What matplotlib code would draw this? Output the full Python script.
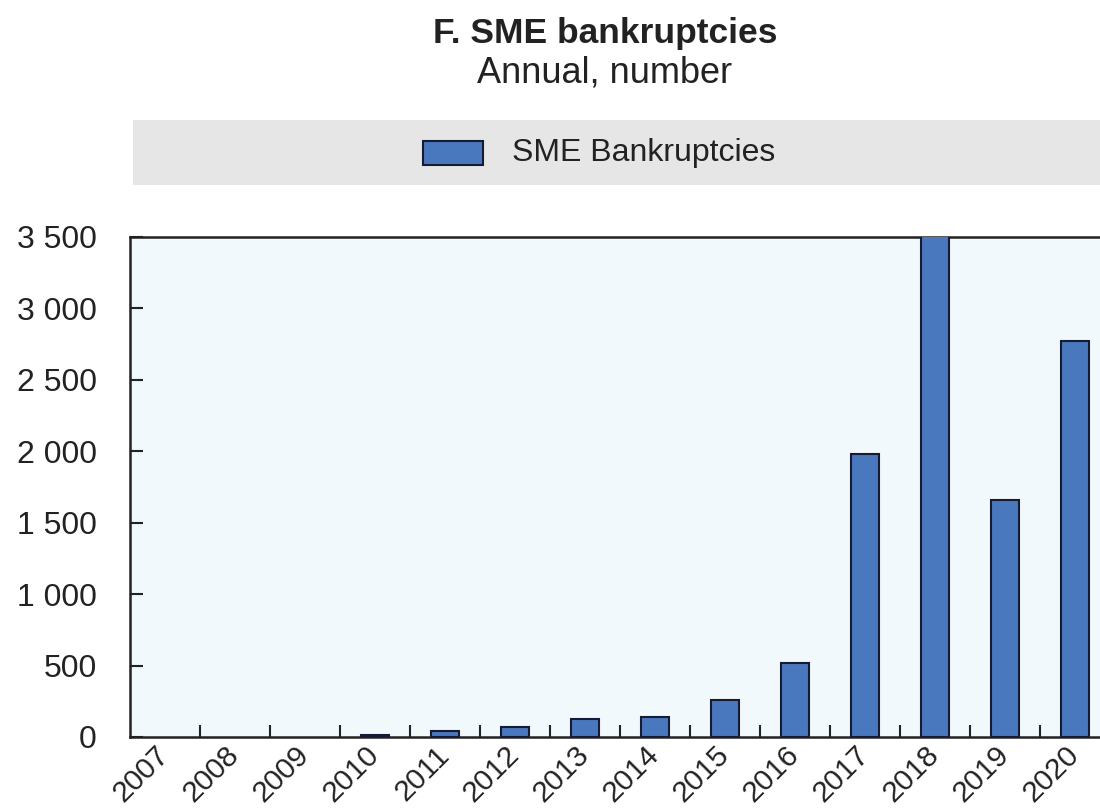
import numpy as np
import matplotlib.pyplot as plt
from matplotlib.patches import Rectangle
from matplotlib.ticker import FuncFormatter
from matplotlib.transforms import ScaledTranslation

plt.rcParams['font.family'] = ['Liberation Sans', 'DejaVu Sans']

# data
years = ['2007', '2008', '2009', '2010', '2011', '2012', '2013',
         '2014', '2015', '2016', '2017', '2018', '2019', '2020']
bankruptcies = [0, 0, 0, 12, 44, 72, 126, 142, 259, 520, 1981, 3520, 1659, 2772]
yticks = [0, 500, 1000, 1500, 2000, 2500, 3000, 3500]

bar_col = '#4a78bf'
edge_col = '#161a33'

fig = plt.figure(figsize=(11, 8.08), dpi=100)
ax = fig.add_axes([130 / 1100, 1 - 737 / 808, 980 / 1100, 500 / 808])
ax.set_facecolor('#f1f9fc')

x = np.arange(len(years))
bars = ax.bar(x, bankruptcies, width=0.4, color=bar_col, edgecolor=edge_col,
              linewidth=1.5, zorder=3, label='SME Bankruptcies')
for b, v in zip(bars, bankruptcies):
    if v == 0:
        b.set_linewidth(0)

ax.set_xlim(-0.5, len(years) - 0.5)
ax.set_ylim(0, 3500)
ax.set_yticks(yticks)
ax.yaxis.set_major_formatter(FuncFormatter(lambda v, p: f'{int(v):,}'.replace(',', ' ')))
ax.set_xticks(x)
ax.set_xticklabels(years, rotation=45, ha='right', va='center', rotation_mode='anchor')
ax.set_xticks(x[:-1] + 0.5, minor=True)
shift = ScaledTranslation(-7 / 100, 0, fig.dpi_scale_trans)
for lab in ax.get_xticklabels():
    lab.set_transform(lab.get_transform() + shift)

ax.tick_params(axis='x', which='major', length=0, labelsize=21.5, pad=10, colors='#222222')
ax.tick_params(axis='x', which='minor', direction='in', length=9, width=1.5, color='#222222')
ax.tick_params(axis='y', which='major', direction='in', length=9, width=1.5,
               labelsize=23, pad=24, colors='#222222')
for s in ['left', 'top', 'bottom']:
    ax.spines[s].set_linewidth(1.8)
    ax.spines[s].set_color('#222222')
ax.spines['right'].set_visible(False)

# title
fig.text(605 / 1100, 1 - 33 / 808, 'F. SME bankruptcies', ha='center', va='center',
         fontsize=25.5, fontweight='bold', color='#222222')
fig.text(605 / 1100, 1 - 73 / 808, 'Annual, number', ha='center', va='center',
         fontsize=26, color='#222222')

# grey legend band
fig.patches.append(Rectangle((133 / 1100, 1 - 185 / 808), 1.0, 65 / 808,
                             transform=fig.transFigure, facecolor='#e6e6e6',
                             edgecolor='none', zorder=0))
fig.patches.append(Rectangle((423 / 1100, 1 - 165 / 808), 60 / 1100, 24 / 808,
                             transform=fig.transFigure, facecolor=bar_col,
                             edgecolor=edge_col, linewidth=1.5, zorder=1))
fig.text(512 / 1100, 1 - 153 / 808, 'SME Bankruptcies', ha='left', va='center',
         fontsize=23, color='#222222')

fig.savefig('out.png', dpi=100)
